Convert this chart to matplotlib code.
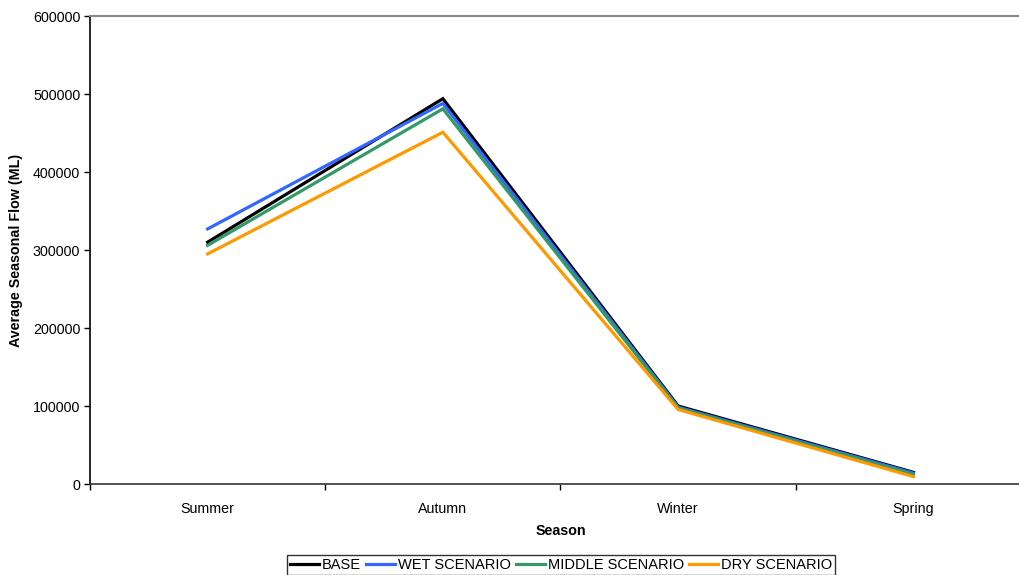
import matplotlib
matplotlib.use('Agg')
import matplotlib.pyplot as plt
import numpy as np

plt.rcParams['font.family'] = ['Liberation Sans', 'DejaVu Sans']

seasons = ['Summer', 'Autumn', 'Winter', 'Spring']
base = [310000, 494000, 100000, 15000]
wet = [327000, 488000, 98500, 14000]
middle = [306000, 481000, 97500, 12500]
dry = [295000, 451000, 95500, 9500]

series = [('BASE', base, '#000000'),
          ('WET SCENARIO', wet, '#3366FF'),
          ('MIDDLE SCENARIO', middle, '#339966'),
          ('DRY SCENARIO', dry, '#FF9900')]

fig = plt.figure(figsize=(10.2, 5.75), dpi=100)
ax = fig.add_axes([90/1020, 1-484/575, 941/1020, 468/575])

x = np.arange(len(seasons))
for name, vals, col in series:
    ax.plot(x, vals, color=col, linewidth=2.3, label=name, solid_joinstyle='miter')

ax.set_xlim(-0.5, len(seasons)-0.5)
ax.set_ylim(0, 600000)
ax.set_yticks(np.arange(0, 600001, 100000))
ax.set_xticks(x)
ax.set_xticklabels(seasons)
ax.set_xticks(np.arange(-0.5, len(seasons), 1), minor=True)
ax.tick_params(axis='x', which='major', length=0, pad=13, labelsize=10.3)
ax.tick_params(axis='x', which='minor', length=4, width=1)
ax.tick_params(axis='y', length=4, width=1, labelsize=10.3, pad=3)

ax.spines['right'].set_visible(False)
ax.spines['top'].set_color('#888888')
ax.spines['top'].set_linewidth(1.5)
ax.spines['left'].set_linewidth(1.2)
ax.spines['bottom'].set_linewidth(1.2)
ax.spines['bottom'].set_color('#333333')

ax.set_xlabel('Season', fontweight='bold', fontsize=10.3, labelpad=6)
ax.set_ylabel('Average Seasonal Flow (ML)', fontweight='bold', fontsize=10.3, labelpad=7)

leg = fig.legend(loc='upper center', bbox_to_anchor=(561/1020, 1-555/575), ncol=4,
                 fontsize=10.5, frameon=True, fancybox=False, edgecolor='black',
                 handlelength=2.0, handletextpad=0.2, columnspacing=0.35,
                 borderpad=0.2, borderaxespad=0)
leg.get_frame().set_linewidth(1.0)

fig.savefig('out.png', dpi=100)
